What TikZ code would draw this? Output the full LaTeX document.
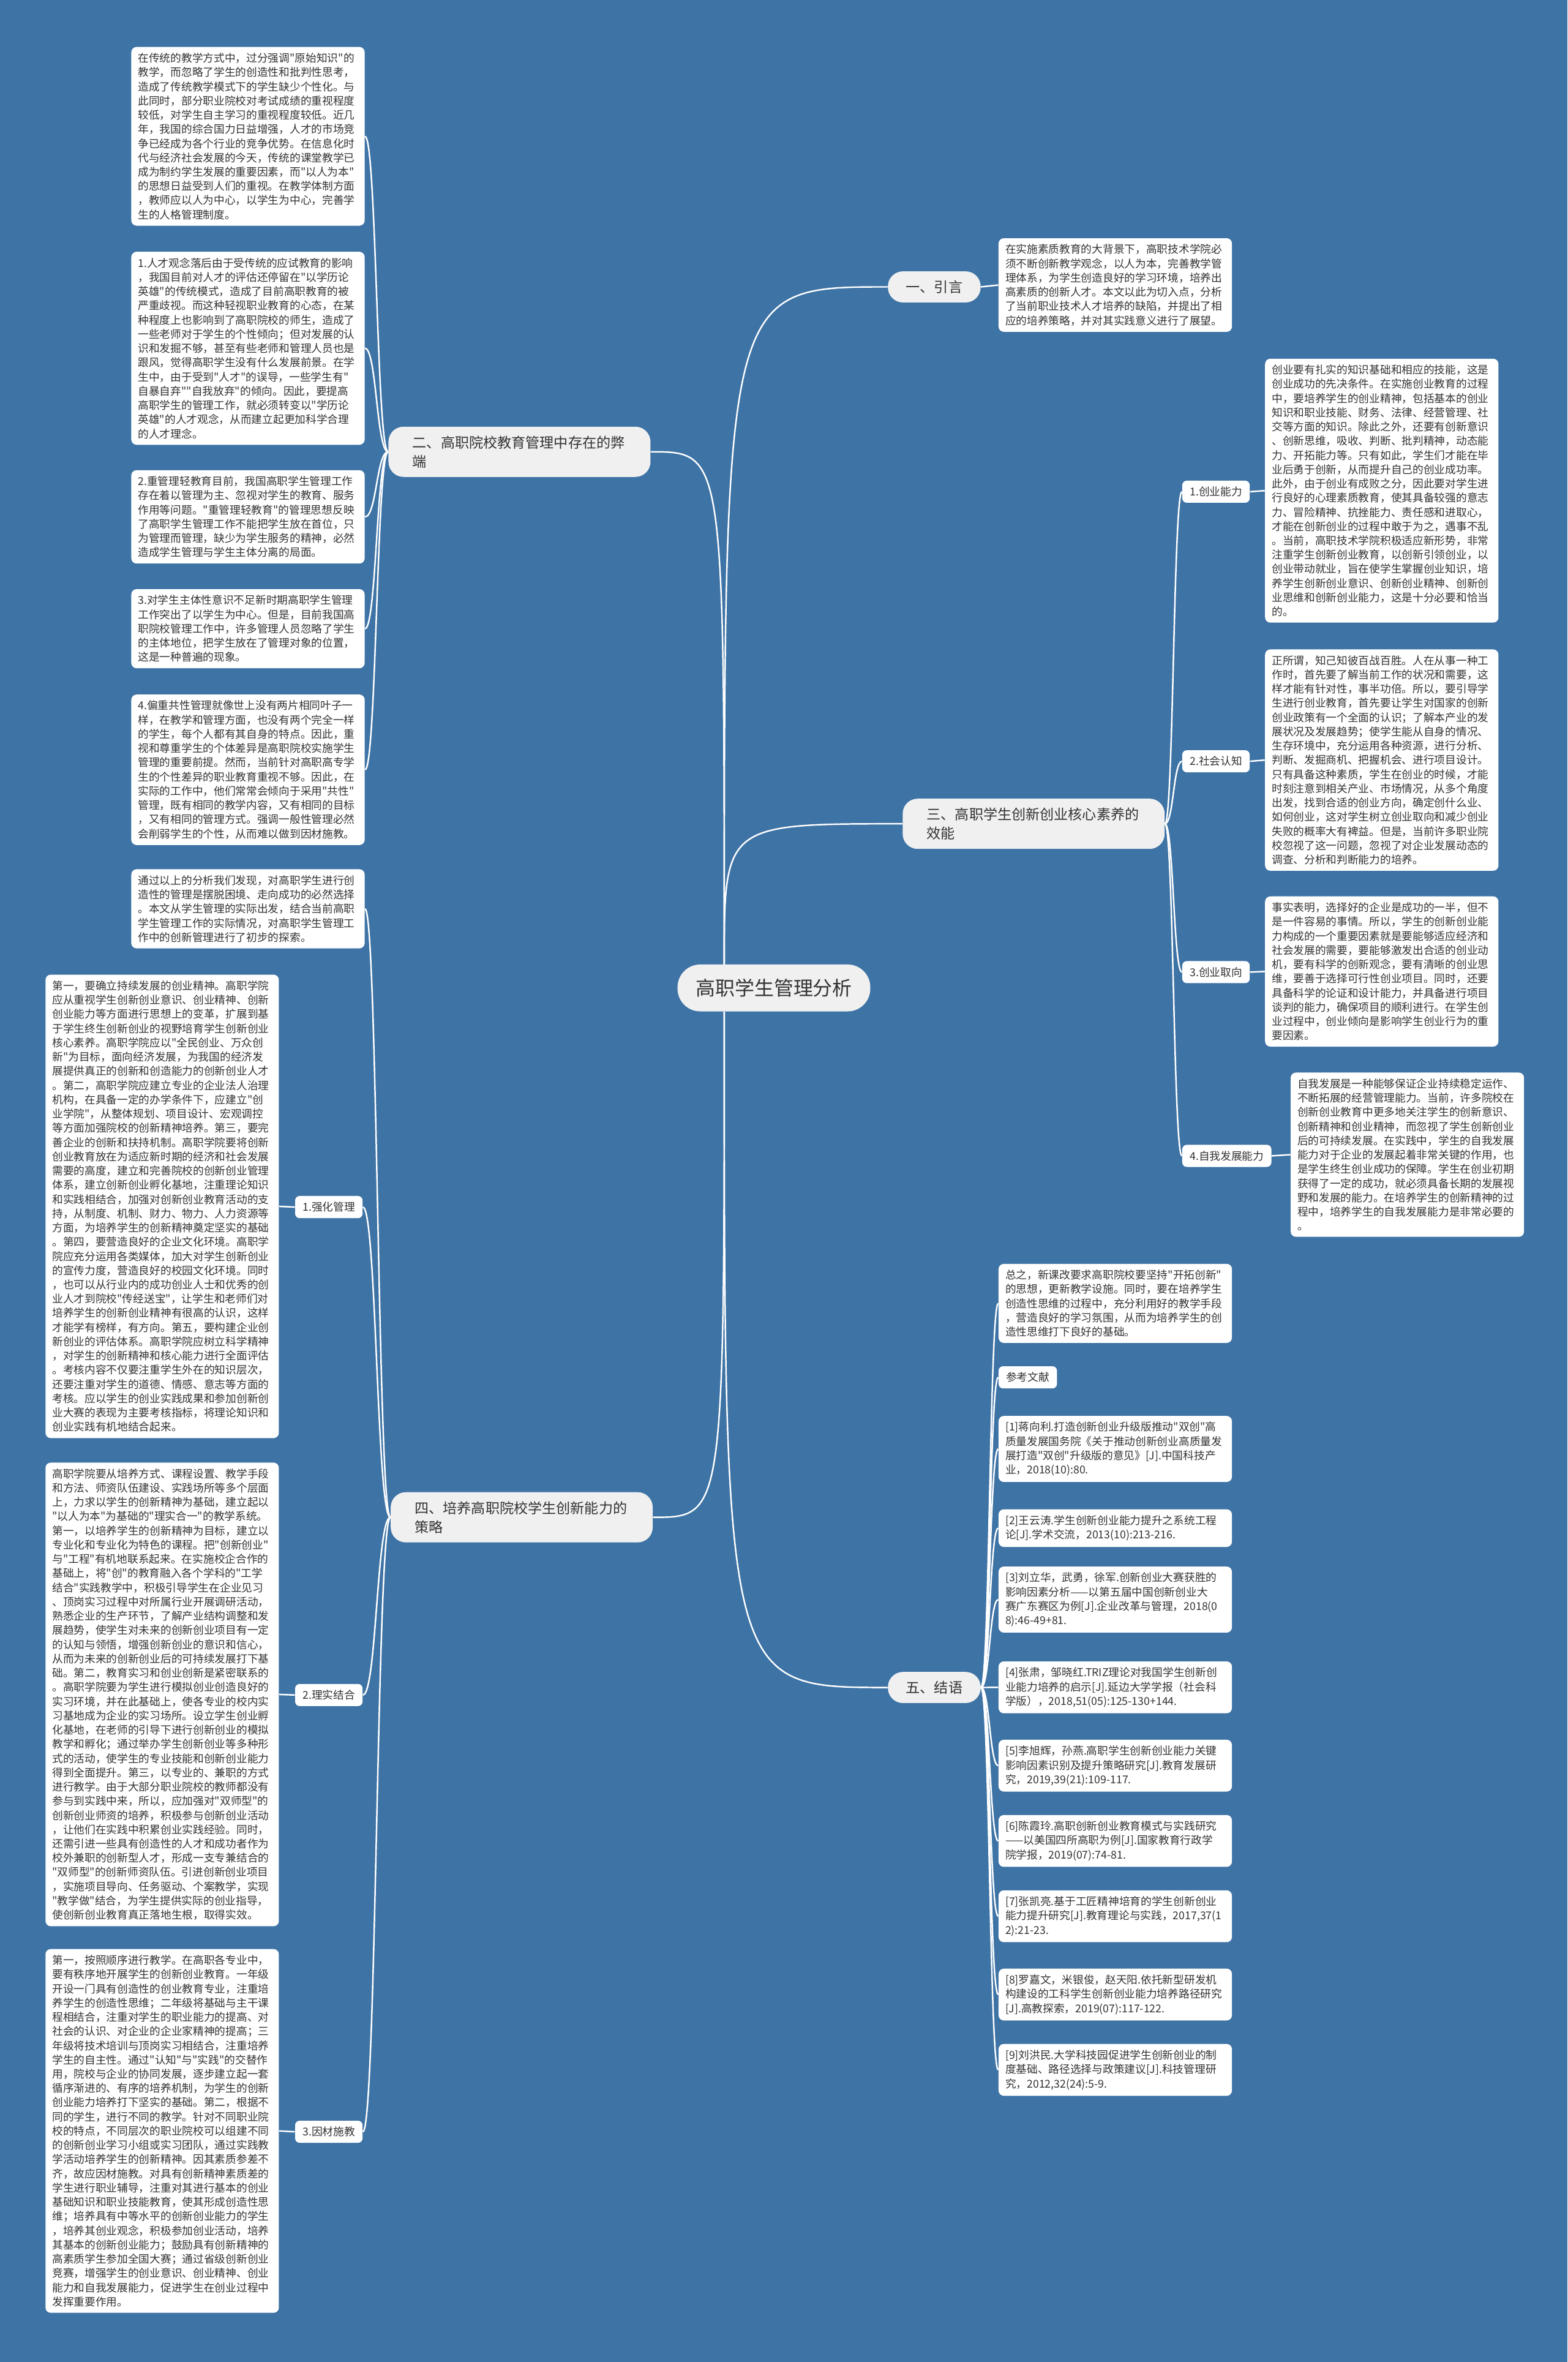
\documentclass[tikz,border=0pt]{standalone}
\usepackage{fontspec}
\setmainfont{Noto Sans CJK SC}
\newfontfamily\cjkfont{Noto Sans CJK SC}
\usetikzlibrary{calc}
\definecolor{bgblue}{RGB}{62,115,165}
\definecolor{nodegray}{RGB}{240,240,240}
\definecolor{txt}{RGB}{51,51,51}
\newcommand{\leaffont}{\cjkfont\fontsize{7.2}{9.45}\selectfont}
\newcommand{\branchfont}{\cjkfont\fontsize{9.4}{12.6}\selectfont}
\newcommand{\rootfont}{\cjkfont\fontsize{13}{15}\selectfont}

\tikzset{
  leaf/.style={fill=white,rounded corners=3.5pt,text=txt,font=\leaffont,align=left,
    text width=146pt,inner xsep=4.5pt,inner ysep=4pt,anchor=north west},
  tag/.style={fill=white,rounded corners=3pt,text=txt,font=\leaffont,inner xsep=5pt,inner ysep=4pt},
  branch/.style={fill=nodegray,rounded corners=10pt,text=txt,font=\branchfont,inner xsep=12pt,inner ysep=6pt},
  twoline/.style={text width=142pt,align=left,inner xsep=16pt},
  link/.style={draw=white,line width=1pt},
  elbow/.style={to path={.. controls (\tikztostart |- \tikztotarget) .. (\tikztotarget)}},
  sbend/.style={to path={.. controls ($(\tikztostart)!.5!(\tikztostart -| \tikztotarget)$)
    and ($(\tikztotarget)!.5!(\tikztotarget -| \tikztostart)$) .. (\tikztotarget)}},
}

\begin{document}
\begin{tikzpicture}[x=1pt,y=-1pt]
\fill[bgblue] (0,0) rectangle (1041,1568.4);
\useasboundingbox (0,0) rectangle (1041,1568.4);

% centre and main branches
\node[branch,font=\rootfont,rounded corners=15pt,inner ysep=9.5pt] (root) at (514,656) {高职学生管理分析};
\node[branch] (sec1) at (620.5,190.5) {一、引言};
\node[branch,twoline] (sec2) at (345,300) {二、高职院校教育管理中存在的弊\\端};
\node[branch,twoline] (sec3) at (686.5,547) {三、高职学生创新创业核心素养的\\效能};
\node[branch,twoline] (sec4) at (346.5,1007.5) {四、培养高职院校学生创新能力的\\策略};
\node[branch] (sec5) at (620.5,1120.5) {五、结语};

\coordinate (rtop) at ([xshift=-33pt]root.north);
\coordinate (rbot) at ([xshift=-33pt]root.south);
\draw[link] (rtop) to[elbow] (sec1.west);
\draw[link] (rtop) to[elbow] (sec2.east);
\draw[link] (rtop) to[elbow] (sec3.west);
\draw[link] (rbot) to[elbow] (sec4.east);
\draw[link] (rbot) to[elbow] (sec5.west);

% 一、引言
\node[leaf] (intro) at (663,158) {在实施素质教育的大背景下，高职技术学院必\\
须不断创新教学观念，以人为本，完善教学管\\
理体系，为学生创造良好的学习环境，培养出\\
高素质的创新人才。本文以此为切入点，分析\\
了当前职业技术人才培养的缺陷，并提出了相\\
应的培养策略，并对其实践意义进行了展望。};
\draw[link] (sec1.east) -- (intro.west);

% 二、弊端
\node[leaf] (flaw0) at (87,31) {在传统的教学方式中，过分强调"原始知识"的\\
教学，而忽略了学生的创造性和批判性思考，\\
造成了传统教学模式下的学生缺少个性化。与\\
此同时，部分职业院校对考试成绩的重视程度\\
较低，对学生自主学习的重视程度较低。近几\\
年，我国的综合国力日益增强，人才的市场竞\\
争已经成为各个行业的竞争优势。在信息化时\\
代与经济社会发展的今天，传统的课堂教学已\\
成为制约学生发展的重要因素，而"以人为本"\\
的思想日益受到人们的重视。在教学体制方面\\
，教师应以人为中心，以学生为中心，完善学\\
生的人格管理制度。};
\node[leaf] (flaw1) at (87,167) {1.人才观念落后由于受传统的应试教育的影响\\
，我国目前对人才的评估还停留在"以学历论\\
英雄"的传统模式，造成了目前高职教育的被\\
严重歧视。而这种轻视职业教育的心态，在某\\
种程度上也影响到了高职院校的师生，造成了\\
一些老师对于学生的个性倾向；但对发展的认\\
识和发掘不够，甚至有些老师和管理人员也是\\
跟风，觉得高职学生没有什么发展前景。在学\\
生中，由于受到"人才"的误导，一些学生有"\\
自暴自弃""自我放弃"的倾向。因此，要提高\\
高职学生的管理工作，就必须转变以"学历论\\
英雄"的人才观念，从而建立起更加科学合理\\
的人才理念。};
\node[leaf] (flaw2) at (87,312) {2.重管理轻教育目前，我国高职学生管理工作\\
存在着以管理为主、忽视对学生的教育、服务\\
作用等问题。"重管理轻教育"的管理思想反映\\
了高职学生管理工作不能把学生放在首位，只\\
为管理而管理，缺少为学生服务的精神，必然\\
造成学生管理与学生主体分离的局面。};
\node[leaf] (flaw3) at (87,391) {3.对学生主体性意识不足新时期高职学生管理\\
工作突出了以学生为中心。但是，目前我国高\\
职院校管理工作中，许多管理人员忽略了学生\\
的主体地位，把学生放在了管理对象的位置，\\
这是一种普遍的现象。};
\node[leaf] (flaw4) at (87,461) {4.偏重共性管理就像世上没有两片相同叶子一\\
样，在教学和管理方面，也没有两个完全一样\\
的学生，每个人都有其自身的特点。因此，重\\
视和尊重学生的个体差异是高职院校实施学生\\
管理的重要前提。然而，当前针对高职高专学\\
生的个性差异的职业教育重视不够。因此，在\\
实际的工作中，他们常常会倾向于采用"共性"\\
管理，既有相同的教学内容，又有相同的目标\\
，又有相同的管理方式。强调一般性管理必然\\
会削弱学生的个性，从而难以做到因材施教。};
\draw[link] (sec2.west) to[sbend] (flaw0.east);
\draw[link] (sec2.west) to[sbend] (flaw1.east);
\draw[link] (sec2.west) to[sbend] (flaw2.east);
\draw[link] (sec2.west) to[sbend] (flaw3.east);
\draw[link] (sec2.west) to[sbend] (flaw4.east);

% 三、核心素养
\node[tag,anchor=west] (abil) at (785,326.5) {1.创业能力};
\node[tag,anchor=west] (cogn) at (785,505.5) {2.社会认知};
\node[tag,anchor=west] (orie) at (785,645.5) {3.创业取向};
\node[tag,anchor=west] (grow) at (785,767.5) {4.自我发展能力};
\draw[link] (sec3.east) to[sbend] (abil.west);
\draw[link] (sec3.east) to[sbend] (cogn.west);
\draw[link] (sec3.east) to[sbend] (orie.west);
\draw[link] (sec3.east) to[sbend] (grow.west);

\node[leaf] (abilT) at (840,238) {创业要有扎实的知识基础和相应的技能，这是\\
创业成功的先决条件。在实施创业教育的过程\\
中，要培养学生的创业精神，包括基本的创业\\
知识和职业技能、财务、法律、经营管理、社\\
交等方面的知识。除此之外，还要有创新意识\\
、创新思维，吸收、判断、批判精神，动态能\\
力、开拓能力等。只有如此，学生们才能在毕\\
业后勇于创新，从而提升自己的创业成功率。\\
此外，由于创业有成败之分，因此要对学生进\\
行良好的心理素质教育，使其具备较强的意志\\
力、冒险精神、抗挫能力、责任感和进取心，\\
才能在创新创业的过程中敢于为之，遇事不乱\\
。当前，高职技术学院积极适应新形势，非常\\
注重学生创新创业教育，以创新引领创业，以\\
创业带动就业，旨在使学生掌握创业知识，培\\
养学生创新创业意识、创新创业精神、创新创\\
业思维和创新创业能力，这是十分必要和恰当\\
的。};
\node[leaf] (cognT) at (840,431) {正所谓，知己知彼百战百胜。人在从事一种工\\
作时，首先要了解当前工作的状况和需要，这\\
样才能有针对性，事半功倍。所以，要引导学\\
生进行创业教育，首先要让学生对国家的创新\\
创业政策有一个全面的认识；了解本产业的发\\
展状况及发展趋势；使学生能从自身的情况、\\
生存环境中，充分运用各种资源，进行分析、\\
判断、发掘商机、把握机会、进行项目设计。\\
只有具备这种素质，学生在创业的时候，才能\\
时刻注意到相关产业、市场情况，从多个角度\\
出发，找到合适的创业方向，确定创什么业、\\
如何创业，这对学生树立创业取向和减少创业\\
失败的概率大有裨益。但是，当前许多职业院\\
校忽视了这一问题，忽视了对企业发展动态的\\
调查、分析和判断能力的培养。};
\node[leaf] (orieT) at (840,595) {事实表明，选择好的企业是成功的一半，但不\\
是一件容易的事情。所以，学生的创新创业能\\
力构成的一个重要因素就是要能够适应经济和\\
社会发展的需要，要能够激发出合适的创业动\\
机，要有科学的创新观念，要有清晰的创业思\\
维，要善于选择可行性创业项目。同时，还要\\
具备科学的论证和设计能力，并具备进行项目\\
谈判的能力，确保项目的顺利进行。在学生创\\
业过程中，创业倾向是影响学生创业行为的重\\
要因素。};
\node[leaf] (growT) at (857,712) {自我发展是一种能够保证企业持续稳定运作、\\
不断拓展的经营管理能力。当前，许多院校在\\
创新创业教育中更多地关注学生的创新意识、\\
创新精神和创业精神，而忽视了学生创新创业\\
后的可持续发展。在实践中，学生的自我发展\\
能力对于企业的发展起着非常关键的作用，也\\
是学生终生创业成功的保障。学生在创业初期\\
获得了一定的成功，就必须具备长期的发展视\\
野和发展的能力。在培养学生的创新精神的过\\
程中，培养学生的自我发展能力是非常必要的\\
。};
\draw[link] (abil.east) -- (abilT.west);
\draw[link] (cogn.east) -- (cognT.west);
\draw[link] (orie.east) -- (orieT.west);
\draw[link] (grow.east) -- (growT.west);

% 四、策略
\node[leaf] (strat0) at (87,577) {通过以上的分析我们发现，对高职学生进行创\\
造性的管理是摆脱困境、走向成功的必然选择\\
。本文从学生管理的实际出发，结合当前高职\\
学生管理工作的实际情况，对高职学生管理工\\
作中的创新管理进行了初步的探索。};
\node[tag,anchor=east] (mgmt) at (241,801.5) {1.强化管理};
\node[tag,anchor=east] (prac) at (241,1125.5) {2.理实结合};
\node[tag,anchor=east] (indiv) at (241,1415.5) {3.因材施教};
\draw[link] (sec4.west) to[sbend] (strat0.east);
\draw[link] (sec4.west) to[sbend] (mgmt.east);
\draw[link] (sec4.west) to[sbend] (prac.east);
\draw[link] (sec4.west) to[sbend] (indiv.east);

\node[leaf] (mgmtT) at (30,647) {第一，要确立持续发展的创业精神。高职学院\\
应从重视学生创新创业意识、创业精神、创新\\
创业能力等方面进行思想上的变革，扩展到基\\
于学生终生创新创业的视野培育学生创新创业\\
核心素养。高职学院应以"全民创业、万众创\\
新"为目标，面向经济发展，为我国的经济发\\
展提供真正的创新和创造能力的创新创业人才\\
。第二，高职学院应建立专业的企业法人治理\\
机构，在具备一定的办学条件下，应建立"创\\
业学院"，从整体规划、项目设计、宏观调控\\
等方面加强院校的创新精神培养。第三，要完\\
善企业的创新和扶持机制。高职学院要将创新\\
创业教育放在为适应新时期的经济和社会发展\\
需要的高度，建立和完善院校的创新创业管理\\
体系，建立创新创业孵化基地，注重理论知识\\
和实践相结合，加强对创新创业教育活动的支\\
持，从制度、机制、财力、物力、人力资源等\\
方面，为培养学生的创新精神奠定坚实的基础\\
。第四，要营造良好的企业文化环境。高职学\\
院应充分运用各类媒体，加大对学生创新创业\\
的宣传力度，营造良好的校园文化环境。同时\\
，也可以从行业内的成功创业人士和优秀的创\\
业人才到院校"传经送宝"，让学生和老师们对\\
培养学生的创新创业精神有很高的认识，这样\\
才能学有榜样，有方向。第五，要构建企业创\\
新创业的评估体系。高职学院应树立科学精神\\
，对学生的创新精神和核心能力进行全面评估\\
。考核内容不仅要注重学生外在的知识层次，\\
还要注重对学生的道德、情感、意志等方面的\\
考核。应以学生的创业实践成果和参加创新创\\
业大赛的表现为主要考核指标，将理论知识和\\
创业实践有机地结合起来。};
\node[leaf] (pracT) at (30,971) {高职学院要从培养方式、课程设置、教学手段\\
和方法、师资队伍建设、实践场所等多个层面\\
上，力求以学生的创新精神为基础，建立起以\\
"以人为本"为基础的"理实合一"的教学系统。\\
第一，以培养学生的创新精神为目标，建立以\\
专业化和专业化为特色的课程。把"创新创业"\\
与"工程"有机地联系起来。在实施校企合作的\\
基础上，将"创"的教育融入各个学科的"工学\\
结合"实践教学中，积极引导学生在企业见习\\
、顶岗实习过程中对所属行业开展调研活动，\\
熟悉企业的生产环节，了解产业结构调整和发\\
展趋势，使学生对未来的创新创业项目有一定\\
的认知与领悟，增强创新创业的意识和信心，\\
从而为未来的创新创业后的可持续发展打下基\\
础。第二，教育实习和创业创新是紧密联系的\\
。高职学院要为学生进行模拟创业创造良好的\\
实习环境，并在此基础上，使各专业的校内实\\
习基地成为企业的实习场所。设立学生创业孵\\
化基地，在老师的引导下进行创新创业的模拟\\
教学和孵化；通过举办学生创新创业等多种形\\
式的活动，使学生的专业技能和创新创业能力\\
得到全面提升。第三，以专业的、兼职的方式\\
进行教学。由于大部分职业院校的教师都没有\\
参与到实践中来，所以，应加强对"双师型"的\\
创新创业师资的培养，积极参与创新创业活动\\
，让他们在实践中积累创业实践经验。同时，\\
还需引进一些具有创造性的人才和成功者作为\\
校外兼职的创新型人才，形成一支专兼结合的\\
"双师型"的创新师资队伍。引进创新创业项目\\
，实施项目导向、任务驱动、个案教学，实现\\
"教学做"结合，为学生提供实际的创业指导，\\
使创新创业教育真正落地生根，取得实效。};
\node[leaf] (indivT) at (30,1294) {第一，按照顺序进行教学。在高职各专业中，\\
要有秩序地开展学生的创新创业教育。一年级\\
开设一门具有创造性的创业教育专业，注重培\\
养学生的创造性思维；二年级将基础与主干课\\
程相结合，注重对学生的职业能力的提高、对\\
社会的认识、对企业的企业家精神的提高；三\\
年级将技术培训与顶岗实习相结合，注重培养\\
学生的自主性。通过"认知"与"实践"的交替作\\
用，院校与企业的协同发展，逐步建立起一套\\
循序渐进的、有序的培养机制，为学生的创新\\
创业能力培养打下坚实的基础。第二，根据不\\
同的学生，进行不同的教学。针对不同职业院\\
校的特点，不同层次的职业院校可以组建不同\\
的创新创业学习小组或实习团队，通过实践教\\
学活动培养学生的创新精神。因其素质参差不\\
齐，故应因材施教。对具有创新精神素质差的\\
学生进行职业辅导，注重对其进行基本的创业\\
基础知识和职业技能教育，使其形成创造性思\\
维；培养具有中等水平的创新创业能力的学生\\
，培养其创业观念，积极参加创业活动，培养\\
其基本的创新创业能力；鼓励具有创新精神的\\
高素质学生参加全国大赛；通过省级创新创业\\
竞赛，增强学生的创业意识、创业精神、创业\\
能力和自我发展能力，促进学生在创业过程中\\
发挥重要作用。};
\draw[link] (mgmt.west) -- (mgmtT.east);
\draw[link] (prac.west) -- (pracT.east);
\draw[link] (indiv.west) -- (indivT.east);

% 五、结语
\node[leaf] (sum) at (663,839) {总之，新课改要求高职院校要坚持"开拓创新"\\
的思想，更新教学设施。同时，要在培养学生\\
创造性思维的过程中，充分利用好的教学手段\\
，营造良好的学习氛围，从而为培养学生的创\\
造性思维打下良好的基础。};
\node[tag,anchor=north west] (refs) at (663,907) {参考文献};
\node[leaf] (ref1) at (663,940) {[1]蒋向利.打造创新创业升级版推动"双创"高\\
质量发展国务院《关于推动创新创业高质量发\\
展打造"双创"升级版的意见》[J].中国科技产\\
业，2018(10):80.};
\node[leaf] (ref2) at (663,1002) {[2]王云涛.学生创新创业能力提升之系统工程\\
论[J].学术交流，2013(10):213-216.};
\node[leaf] (ref3) at (663,1040) {[3]刘立华，武勇，徐军.创新创业大赛获胜的\\
影响因素分析——以第五届中国创新创业大\\
赛广东赛区为例[J].企业改革与管理，2018(0\\
8):46-49+81.};
\node[leaf] (ref4) at (663,1103) {[4]张肃，邹晓红.TRIZ理论对我国学生创新创\\
业能力培养的启示[J].延边大学学报（社会科\\
学版），2018,51(05):125-130+144.};
\node[leaf] (ref5) at (663,1155) {[5]李旭辉，孙燕.高职学生创新创业能力关键\\
影响因素识别及提升策略研究[J].教育发展研\\
究，2019,39(21):109-117.};
\node[leaf] (ref6) at (663,1205) {[6]陈霞玲.高职创新创业教育模式与实践研究\\
——以美国四所高职为例[J].国家教育行政学\\
院学报，2019(07):74-81.};
\node[leaf] (ref7) at (663,1255) {[7]张凯亮.基于工匠精神培育的学生创新创业\\
能力提升研究[J].教育理论与实践，2017,37(1\\
2):21-23.};
\node[leaf] (ref8) at (663,1307) {[8]罗嘉文，米银俊，赵天阳.依托新型研发机\\
构建设的工科学生创新创业能力培养路径研究\\
{}[J].高教探索，2019(07):117-122.};
\node[leaf] (ref9) at (663,1357) {[9]刘洪民.大学科技园促进学生创新创业的制\\
度基础、路径选择与政策建议[J].科技管理研\\
究，2012,32(24):5-9.};
\draw[link] (sec5.east) to[sbend] (sum.west);
\draw[link] (sec5.east) to[sbend] (refs.west);
\draw[link] (sec5.east) to[sbend] (ref1.west);
\draw[link] (sec5.east) to[sbend] (ref2.west);
\draw[link] (sec5.east) to[sbend] (ref3.west);
\draw[link] (sec5.east) to[sbend] (ref4.west);
\draw[link] (sec5.east) to[sbend] (ref5.west);
\draw[link] (sec5.east) to[sbend] (ref6.west);
\draw[link] (sec5.east) to[sbend] (ref7.west);
\draw[link] (sec5.east) to[sbend] (ref8.west);
\draw[link] (sec5.east) to[sbend] (ref9.west);
\end{tikzpicture}
\end{document}
